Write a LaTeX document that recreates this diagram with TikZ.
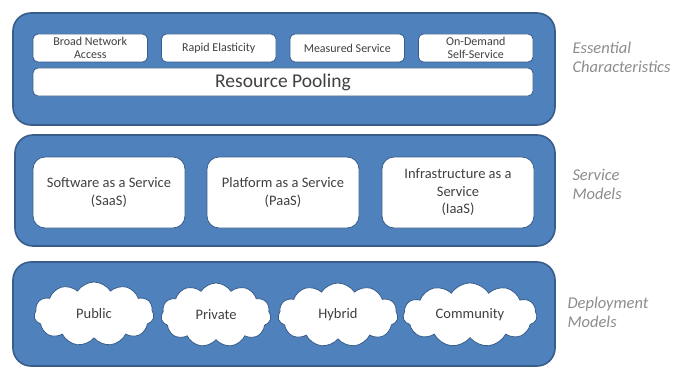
\documentclass[tikz,border=0pt]{standalone}
\usepackage{fontspec}
\setmainfont{Carlito}
\usetikzlibrary{shapes.symbols}
\definecolor{layerblue}{RGB}{79,129,189}
\definecolor{layeredge}{RGB}{56,93,138}
\definecolor{boxtext}{RGB}{64,64,64}
\definecolor{captiongray}{RGB}{140,140,140}
\begin{document}
\begin{tikzpicture}[x=1pt, y=-1pt,
    layer/.style = {draw=layeredge, line width=1.6pt, fill=layerblue, rounded corners=18pt},
    feature/.style = {shape=rectangle, rounded corners=5pt, draw=layeredge, line width=0.8pt,
                      fill=white, align=center, text=boxtext, inner sep=0pt},
    model/.style = {feature, rounded corners=12pt, minimum width=152pt, minimum height=71pt,
                    font=\fontsize{14.5}{17.5}\selectfont},
    deploy/.style = {shape=cloud, cloud puffs=11, cloud puff arc=115, cloud ignores aspect,
                     draw=layeredge, line width=0.8pt, fill=white, text=boxtext, inner sep=0pt,
                     minimum height=64pt, font=\fontsize{14.5}{16}\selectfont},
    caption/.style = {anchor=west, align=left, text=captiongray,
                      font=\fontsize{16.5}{19}\selectfont\itshape}]
  \useasboundingbox (0,0) rectangle (688,369);

  % essential characteristics
  \draw[layer] (13,13) rectangle (555,125);
  \node[feature, minimum width=114.5pt, minimum height=28pt, font=\fontsize{12}{13}\selectfont]
    (broad) at (90.25,48) {Broad Network\\Access};
  \node[feature, minimum width=114.5pt, minimum height=28pt, font=\fontsize{12}{13}\selectfont]
    (elastic) at (218.75,48) {Rapid Elasticity};
  \node[feature, minimum width=114.5pt, minimum height=28pt, font=\fontsize{12}{13}\selectfont]
    (measured) at (347.25,48) {Measured Service};
  \node[feature, minimum width=114.5pt, minimum height=28pt, font=\fontsize{12}{13}\selectfont]
    (ondemand) at (475.75,48) {On-Demand\\Self-Service};
  \node[feature, minimum width=500pt, minimum height=28pt, font=\fontsize{19.5}{22}\selectfont]
    (pooling) at (283,82) {Resource Pooling};
  \node[caption] (essential) at (569,57) {Essential\\Characteristics};

  % service models
  \draw[layer] (15,135) rectangle (555,246);
  \node[model] (saas) at (109,192.5) {Software as a Service\\(SaaS)};
  \node[model] (paas) at (283,192.5) {Platform as a Service\\(PaaS)};
  \node[model] (iaas) at (458,192.5) {Infrastructure as a\\Service\\(IaaS)};
  \node[caption] (service) at (569,184) {Service\\Models};

  % deployment models
  \draw[layer] (13,262) rectangle (555,366);
  \node[deploy, minimum width=120pt] (public) at (94,314) {Public};
  \node[deploy, minimum width=110pt] (private) at (216,315) {Private};
  \node[deploy, minimum width=120pt] (hybrid) at (338,315) {Hybrid};
  \node[deploy, minimum width=134pt] (community) at (470,315) {Community};
  \node[caption] (deployment) at (564,312) {Deployment\\Models};
\end{tikzpicture}
\end{document}
